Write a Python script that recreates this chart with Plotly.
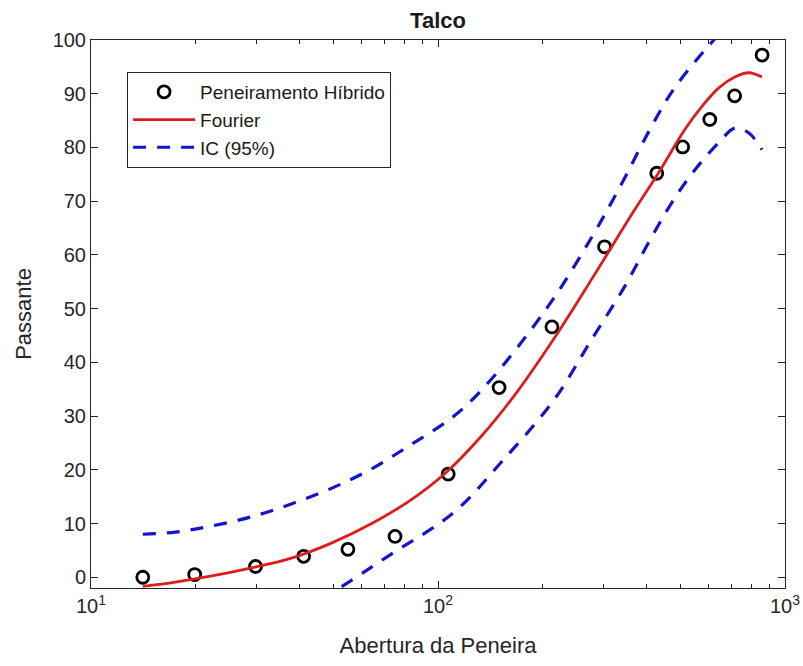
import plotly.graph_objects as go

# Measured passing fraction per sieve aperture
abertura = [14.1, 19.9, 29.8, 41.0, 55.0, 75.2, 107, 150, 213, 302, 427, 507, 607, 716, 859]
passante = [0.0, 0.5, 2.0, 3.9, 5.2, 7.6, 19.2, 35.3, 46.6, 61.5, 75.2, 80.1, 85.2, 89.6, 97.2]

# Fourier fit curve
fourier_x = [14.1, 17.5, 22.1, 28.8, 37.6, 49.1, 64.0, 83.6, 105.5, 133.1, 165.9, 212.2,
             276.8, 368.6, 432.3, 514.0, 575.6, 644.6, 716.9, 787.0, 858.0]
fourier_y = [-1.7, -0.9, 0.2, 1.7, 3.5, 6.3, 9.9, 14.4, 19.5, 26.2, 33.8, 43.7,
             55.4, 68.4, 75.3, 83.3, 87.6, 91.1, 93.1, 93.9, 93.1]

# 95% confidence bounds
ic_sup_x = [14.1, 17.5, 22.1, 28.8, 37.6, 49.1, 64.0, 83.6, 111.2, 139.5, 208, 276.8,
            338, 404.5, 471.5, 564.2, 623.5, 716.9, 858.0]
ic_sup_y = [8.0, 8.4, 9.5, 11.2, 13.6, 16.5, 20.1, 24.7, 30.0, 36.2, 50.5, 63.2,
            73.2, 82.9, 90.3, 96.8, 100.0, 104.6, 108.9]
ic_inf_x = [40.2, 51.4, 71.7, 111.2, 152.1, 216.4, 276.8, 344.9, 404.5, 471.5, 549.5,
            644.6, 716.9, 787.0, 858.0]
ic_inf_y = [-6.3, -2.2, 3.9, 12.1, 21.4, 33.1, 44.2, 54.1, 62.3, 69.7, 75.8,
            80.9, 83.6, 82.7, 79.6]

x_ticks = [10, 100, 1000]
x_ticktext = ["10<sup>1</sup>", "10<sup>2</sup>", "10<sup>3</sup>"]
x_minor = [m * d for d in (10, 100) for m in range(2, 10)]
y_ticks = list(range(0, 101, 10))

AX = "#262626"
FONT = "Liberation Sans, Arial, Helvetica, sans-serif"
RED = "#dd1c1c"
BLUE = "#1414c8"
DASH = "13px,11px"

fig = go.Figure()
fig.add_trace(go.Scatter(
    x=abertura, y=passante, mode="markers", name="Peneiramento Híbrido",
    marker=dict(symbol="circle-open", size=12, color="black", line=dict(width=2.8, color="black")),
    cliponaxis=False,
))
fig.add_trace(go.Scatter(
    x=fourier_x, y=fourier_y, mode="lines", name="Fourier",
    line=dict(color=RED, width=2.8, shape="spline", smoothing=1.0),
))
fig.add_trace(go.Scatter(
    x=ic_sup_x, y=ic_sup_y, mode="lines", name="IC (95%)", legendgroup="ic",
    line=dict(color=BLUE, width=3.2, dash=DASH, shape="spline", smoothing=1.0),
))
fig.add_trace(go.Scatter(
    x=ic_inf_x, y=ic_inf_y, mode="lines", name="IC (95%)", legendgroup="ic", showlegend=False,
    line=dict(color=BLUE, width=3.2, dash=DASH, shape="spline", smoothing=1.0),
))

fig.update_layout(
    width=803, height=666,
    margin=dict(l=91, r=18, t=40, b=78),
    paper_bgcolor="white", plot_bgcolor="white",
    font=dict(family=FONT, color=AX, size=20),
    title=dict(text="<b>Talco</b>", x=0.5455, xanchor="center", y=0.970, yanchor="middle",
               font=dict(size=22, color="#1a1a1a")),
    showlegend=True,
    legend=dict(x=0.052, y=0.9416, xanchor="left", yanchor="top",
                bordercolor=AX, borderwidth=1, bgcolor="white",
                font=dict(size=19, color="#1a1a1a"), itemwidth=62,
                tracegroupgap=0),
    xaxis=dict(
        type="log", range=[1, 3], tickvals=x_ticks, ticktext=x_ticktext, automargin=False,
        showgrid=False, zeroline=False, showline=True, linecolor=AX, linewidth=1,
        mirror="ticks", ticks="inside", ticklen=7, tickcolor=AX,
        minor=dict(tickvals=x_minor, ticks="inside", ticklen=4, tickcolor=AX, showgrid=False),
        title=dict(text="Abertura da Peneira", font=dict(size=22), standoff=21),
        tickfont=dict(size=20),
    ),
    yaxis=dict(
        range=[-2, 100], tickvals=y_ticks, automargin=False,
        showgrid=False, zeroline=False, showline=True, linecolor=AX, linewidth=1,
        mirror="ticks", ticks="inside", ticklen=7, tickcolor=AX,
        title=dict(text="Passante", font=dict(size=22), standoff=14),
        tickfont=dict(size=20),
    ),
)

fig.write_html("out.html")
